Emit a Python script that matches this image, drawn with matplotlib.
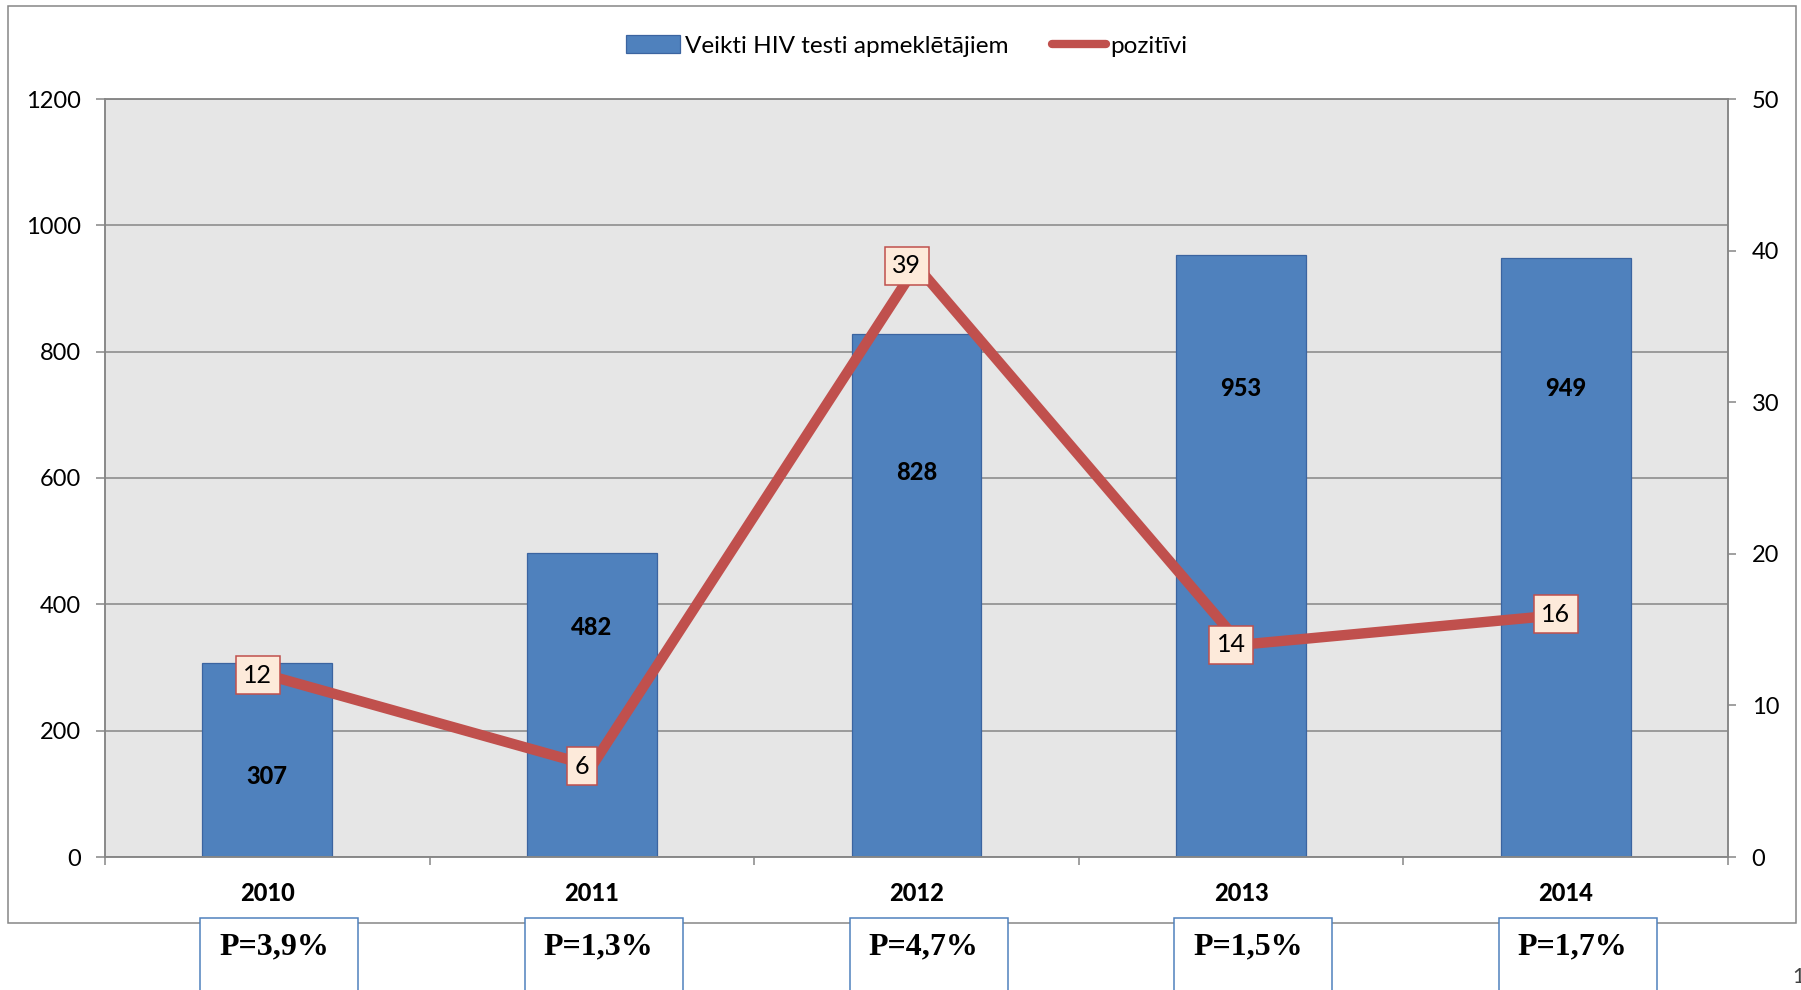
"""HIV tests done for visitors (bars) vs. positive results (line), 2010-2014."""
import matplotlib

matplotlib.use("Agg")  # no display
import matplotlib.pyplot as plt
from matplotlib.lines import Line2D
from matplotlib.patches import Rectangle

years = ["2010", "2011", "2012", "2013", "2014"]
tests = [307, 482, 828, 953, 949]
positive = [12, 6, 39, 14, 16]
p_labels = ["P=3,9%", "P=1,3%", "P=4,7%", "P=1,5%", "P=1,7%"]
legend_labels = ["Veikti HIV testi apmeklētājiem", "pozitīvi"]

# bar values were dragged by hand in the original, so keep their heights here
bar_label_y = [127, 364, 609, 741, 741]

BLUE = "#4F81BD"
BLUE_EDGE = "#3B64A0"
RED = "#C0504D"
GRID = "#868686"
PLOT_BG = "#E6E6E6"
LABEL_BG = "#FDEADA"

W, H = 1801, 990


def px(x, y):
    """Pixel position (top-left origin) -> figure fraction."""
    return x / W, 1 - y / H


def main():
    plt.rcParams["font.family"] = ["Lato", "DejaVu Sans"]
    fig = plt.figure(figsize=(W / 100, H / 100), dpi=100)

    # outer chart frame
    fig.add_artist(Rectangle(px(8, 923), (1796 - 8) / W, (923 - 6) / H,
                             transform=fig.transFigure, fill=False,
                             ec=GRID, lw=1.1, zorder=0))

    ax = fig.add_axes([105 / W, 1 - 857 / H, (1728 - 105) / W, (857 - 99) / H])
    ax.set_facecolor(PLOT_BG)
    xs = list(range(len(years)))
    ax.bar(xs, tests, width=0.4, color=BLUE, edgecolor=BLUE_EDGE,
           linewidth=0.9, zorder=2)
    ax.set_xlim(-0.5, len(years) - 0.5)
    ax.set_ylim(0, 1200)
    ax.set_yticks(range(0, 1201, 200))
    ax.yaxis.grid(True, color=GRID, linewidth=1.1)
    ax.set_axisbelow(True)
    for s in ax.spines.values():
        s.set_color(GRID)
        s.set_linewidth(1.1)
    ax.tick_params(axis="y", length=6.5, width=1.1, color=GRID, pad=11,
                   labelsize=17)
    ax.set_xticks(xs)
    ax.set_xticklabels(years, fontweight=900, fontsize=17)
    ax.tick_params(axis="x", which="major", length=0, pad=18)
    ax.set_xticks([i - 0.5 for i in range(len(years) + 1)], minor=True)
    ax.tick_params(axis="x", which="minor", length=6, width=1.1, color=GRID)

    for i, (v, yl) in enumerate(zip(tests, bar_label_y)):
        ax.text(i, yl, str(v), ha="center", va="center", fontsize=17,
                fontweight=900, zorder=3)

    ax2 = ax.twinx()
    ax2.set_ylim(0, 50)
    ax2.set_yticks(range(0, 51, 10))
    for s in ax2.spines.values():
        s.set_color(GRID)
        s.set_linewidth(1.1)
    ax2.tick_params(axis="y", length=6, width=1.1, color=GRID, pad=11,
                    labelsize=17)
    ax2.plot(xs, positive, color=RED, lw=7.5, solid_joinstyle="round")
    for i, v in enumerate(positive):
        ax2.annotate(str(v), (i, v), xytext=(-7, 0), textcoords="offset points",
                     ha="center", va="center", fontsize=18,
                     bbox=dict(boxstyle="square,pad=0.3", fc=LABEL_BG,
                               ec=RED, lw=1.1))

    handles = [Rectangle((0, 0), 1, 1, fc=BLUE, ec=BLUE_EDGE, lw=0.9),
               Line2D([], [], color=RED, lw=6, solid_capstyle="round")]
    fig.legend(handles, legend_labels, loc="center",
               bbox_to_anchor=px(907, 46), ncol=2, frameon=False,
               fontsize=17.5, handlelength=2.2, handletextpad=0.2,
               columnspacing=1.8)

    # P= boxes under each year, a little right of the category centre
    fig.canvas.draw()
    for i, lab in enumerate(p_labels):
        cx = ax.transData.transform((i, 0))[0]
        left = cx - 79 + 12
        fig.add_artist(Rectangle(px(left, 1000), 158 / W, (1000 - 918) / H,
                                 transform=fig.transFigure, fc="white",
                                 ec=BLUE, lw=1.1, zorder=2))
        fig.text(*px(left + 19, 947), lab, ha="left", va="center",
                 fontsize=23, fontweight="bold", family="Liberation Serif",
                 zorder=3)

    # page number cut off at the right edge
    fig.text(*px(1792, 977), "1", ha="left", va="center", fontsize=15,
             color="#404040")

    fig.savefig("out.png", dpi=100)
    plt.close(fig)


if __name__ == "__main__":
    main()
